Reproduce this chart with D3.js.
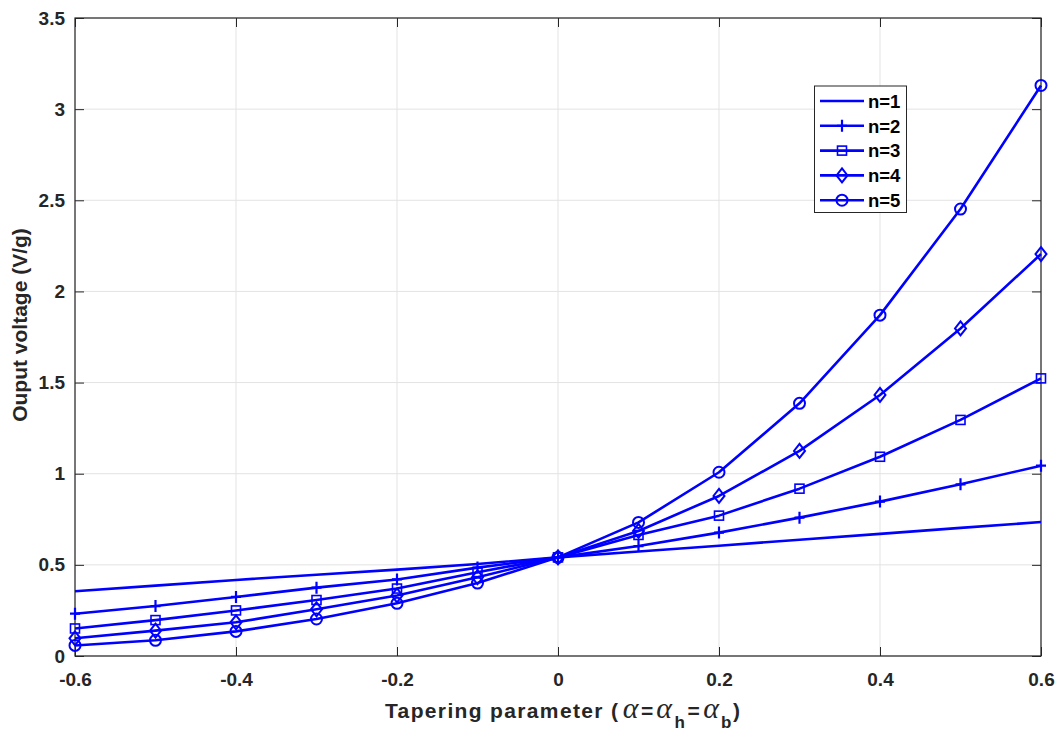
<!DOCTYPE html>
<html>
<head>
<meta charset="utf-8">
<script src="https://cdn.jsdelivr.net/npm/d3@7"></script>
<style>
  html, body { margin: 0; padding: 0; background: #fff; }
  svg { display: block; }
  .tick text { font-family: "Liberation Sans", Arial, sans-serif; font-weight: bold; font-size: 19px; fill: #262626; }
</style>
</head>
<body>
<svg id="chart" width="1063" height="731"></svg>
<script>
// Tapering parameter values (x)
const alphas = [-0.6, -0.5, -0.4, -0.3, -0.2, -0.1, 0, 0.1, 0.2, 0.3, 0.4, 0.5, 0.6];

// Output voltage (V/g) for each mode n
const n1 = [0.355, 0.386, 0.417, 0.446, 0.474, 0.505, 0.541, 0.573, 0.605, 0.638, 0.670, 0.703, 0.735];
const n2 = [0.232, 0.274, 0.324, 0.375, 0.420, 0.485, 0.541, 0.603, 0.677, 0.759, 0.847, 0.942, 1.044];
const n3 = [0.151, 0.197, 0.250, 0.307, 0.370, 0.460, 0.541, 0.664, 0.770, 0.918, 1.093, 1.295, 1.523];
const n4 = [0.097, 0.139, 0.185, 0.256, 0.332, 0.432, 0.541, 0.686, 0.878, 1.125, 1.432, 1.797, 2.205];
const n5 = [0.058, 0.086, 0.135, 0.203, 0.289, 0.400, 0.541, 0.733, 1.008, 1.386, 1.870, 2.452, 3.130];

const seriesNames = ["n=1", "n=2", "n=3", "n=4", "n=5"];
const seriesValues = [n1, n2, n3, n4, n5];
const seriesMarkers = ["none", "plus", "square", "diamond", "circle"];

const xTicks = [-0.6, -0.4, -0.2, 0, 0.2, 0.4, 0.6];
const yTicks = [0, 0.5, 1, 1.5, 2, 2.5, 3, 3.5];

const svg = d3.select("#chart");
const margin = { left: 75, top: 18, right: 1041, bottom: 656 };
const blue = "#0000ff";
const ink = "#262626";
const sans = "Liberation Sans, Arial, sans-serif";
const serif = "Liberation Serif, Times New Roman, serif";

const x = d3.scaleLinear().domain([-0.6, 0.6]).range([margin.left, margin.right]);
const y = d3.scaleLinear().domain([0, 3.5]).range([margin.bottom, margin.top]);

const plotW = margin.right - margin.left;
const plotH = margin.bottom - margin.top;

// grid
const grid = svg.append("g");
grid.selectAll(".gx").data(xTicks).join("line")
  .attr("x1", d => x(d)).attr("x2", d => x(d))
  .attr("y1", margin.top).attr("y2", margin.bottom)
  .attr("stroke", "#e3e3e3").attr("stroke-width", 1);
grid.selectAll(".gy").data(yTicks).join("line")
  .attr("x1", margin.left).attr("x2", margin.right)
  .attr("y1", d => y(d)).attr("y2", d => y(d))
  .attr("stroke", "#e3e3e3").attr("stroke-width", 1);

// axes (ticks inward, MATLAB style, on all four sides)
const fmt = d => d === 0 ? "0" : String(d);
const xAxis = d3.axisBottom(x).tickValues(xTicks).tickFormat(fmt).tickSizeInner(-9).tickSizeOuter(0).tickPadding(17);
const yAxis = d3.axisLeft(y).tickValues(yTicks).tickFormat(fmt).tickSizeInner(-9).tickSizeOuter(0).tickPadding(10);
const xTop = d3.axisTop(x).tickValues(xTicks).tickFormat("").tickSizeInner(-9).tickSizeOuter(0);
const yRight = d3.axisRight(y).tickValues(yTicks).tickFormat("").tickSizeInner(-9).tickSizeOuter(0);

function styleAxis(g) {
  g.select(".domain").remove();
  g.selectAll(".tick line").attr("stroke", ink).attr("stroke-width", 1);
}
svg.append("g").attr("transform", `translate(0,${margin.bottom})`).call(xAxis).call(styleAxis);
svg.append("g").attr("transform", `translate(${margin.left},0)`).call(yAxis).call(styleAxis);
svg.append("g").attr("transform", `translate(0,${margin.top})`).call(xTop).call(styleAxis);
svg.append("g").attr("transform", `translate(${margin.right},0)`).call(yRight).call(styleAxis);

// frame
svg.append("rect")
  .attr("x", margin.left).attr("y", margin.top)
  .attr("width", plotW).attr("height", plotH)
  .attr("fill", "none").attr("stroke", ink).attr("stroke-width", 1.2);

// marker drawing
function drawMarker(g, type, cx, cy) {
  if (type === "plus") {
    g.append("path").attr("d", `M${cx - 5},${cy}H${cx + 5}M${cx},${cy - 6}V${cy + 6}`)
      .attr("stroke", blue).attr("stroke-width", 2.2).attr("fill", "none");
  } else if (type === "square") {
    g.append("rect").attr("x", cx - 4.5).attr("y", cy - 4.5).attr("width", 9).attr("height", 9)
      .attr("stroke", blue).attr("stroke-width", 1.6).attr("fill", "none");
  } else if (type === "diamond") {
    g.append("path").attr("d", `M${cx},${cy - 7}L${cx + 5.5},${cy}L${cx},${cy + 7}L${cx - 5.5},${cy}Z`)
      .attr("stroke", blue).attr("stroke-width", 2).attr("fill", "none");
  } else if (type === "circle") {
    g.append("circle").attr("cx", cx).attr("cy", cy).attr("r", 5.5)
      .attr("stroke", blue).attr("stroke-width", 2).attr("fill", "none");
  }
}

const line = d3.line().x((d, i) => x(alphas[i])).y(d => y(d));

const plot = svg.append("g");
seriesValues.forEach((vals, si) => {
  plot.append("path").datum(vals)
    .attr("d", line)
    .attr("fill", "none").attr("stroke", blue).attr("stroke-width", 2.6)
    .attr("stroke-linejoin", "round");
  const mg = plot.append("g");
  vals.forEach((v, i) => drawMarker(mg, seriesMarkers[si], x(alphas[i]), y(v)));
});

// legend
const lg = svg.append("g");
lg.append("rect").attr("x", 814.5).attr("y", 86).attr("width", 92).attr("height", 126.5)
  .attr("fill", "#fff").attr("stroke", ink).attr("stroke-width", 1);
seriesNames.forEach((name, i) => {
  const ly = 101 + i * 24.8;
  lg.append("line").attr("x1", 820).attr("x2", 864).attr("y1", ly).attr("y2", ly)
    .attr("stroke", blue).attr("stroke-width", 2.6);
  drawMarker(lg, seriesMarkers[i], 842, ly);
  lg.append("text").attr("x", 868).attr("y", ly + 6.8).text(name)
    .attr("font-family", sans).attr("font-weight", "bold")
    .attr("font-size", 18.5).attr("fill", "#000");
});

// x axis title with Greek alpha and subscripts
const xt = svg.append("text").attr("y", 718)
  .attr("font-family", sans).attr("font-weight", "bold")
  .attr("font-size", 21).attr("fill", ink);
xt.append("tspan").attr("x", 385).attr("textLength", 233).attr("lengthAdjust", "spacing")
  .text("Tapering parameter (");
const alphaSpan = (cx) => xt.append("tspan").attr("x", cx).attr("y", 718)
  .attr("text-anchor", "middle").text("α")
  .attr("font-family", serif).attr("font-style", "italic").attr("font-weight", "normal").attr("font-size", 30);
alphaSpan(630.5);
xt.append("tspan").attr("x", 641).attr("y", 718).attr("text-anchor", "start").text("=");
alphaSpan(664);
xt.append("tspan").attr("x", 674.5).attr("y", 728).attr("text-anchor", "start").attr("font-size", 17).text("h");
xt.append("tspan").attr("x", 687.5).attr("y", 718).attr("text-anchor", "start").text("=");
alphaSpan(711);
xt.append("tspan").attr("x", 721).attr("y", 728).attr("text-anchor", "start").attr("font-size", 17).text("b");
xt.append("tspan").attr("x", 733).attr("y", 718).attr("text-anchor", "start").text(")");

// y axis title
svg.append("text").attr("transform", "translate(27,325) rotate(-90)").attr("text-anchor", "middle")
  .attr("font-family", sans).attr("font-weight", "bold")
  .attr("font-size", 21).attr("fill", ink).text("Ouput voltage (V/g)");
</script>
</body>
</html>
